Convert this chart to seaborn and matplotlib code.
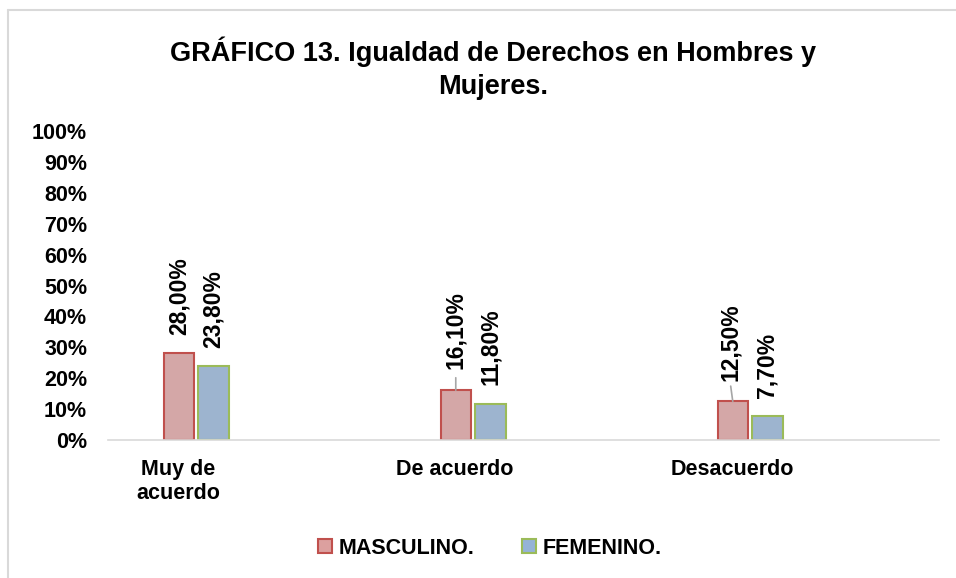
import matplotlib
matplotlib.use("Agg")
import matplotlib.pyplot as plt
import matplotlib.transforms as mtransforms
from matplotlib.lines import Line2D
from matplotlib.patches import Patch
import pandas as pd
import seaborn as sns

# ── Data ──────────────────────────────────────────────────────────────────────
CATEGORIES = ["Muy de\nacuerdo", "De acuerdo", "Desacuerdo"]
MASCULINO  = [0.280, 0.161, 0.125]
FEMENINO   = [0.238, 0.118, 0.077]
LABELS_M   = ["28,00%", "16,10%", "12,50%"]
LABELS_F   = ["23,80%", "11,80%", "7,70%"]
SERIES     = ["MASCULINO.", "FEMENINO."]
Y_TICKS    = [i / 10 for i in range(11)]

TITLE = "GRÁFICO 13. Igualdad de Derechos en Hombres y\nMujeres."

# ── Style ─────────────────────────────────────────────────────────────────────
sns.set_style("white")
plt.rcParams["font.family"] = ["Liberation Sans", "DejaVu Sans"]
plt.rcParams["text.color"] = "#000000"
FILL = {"MASCULINO.": "#DCA09F", "FEMENINO.": "#95B3D7"}
EDGE = {"MASCULINO.": "#C0504D", "FEMENINO.": "#9BBB59"}
FS = 15.5

df = pd.DataFrame({
    "cat":   CATEGORIES * 2,
    "serie": [SERIES[0]] * 3 + [SERIES[1]] * 3,
    "val":   MASCULINO + FEMENINO,
    "lab":   LABELS_M + LABELS_F,
})

fig = plt.figure(figsize=(9.56, 5.78), dpi=100)
ax = fig.add_axes([108 / 956, 1 - 440 / 578, 831 / 956, 309 / 578])

sns.barplot(data=df, x="cat", y="val", hue="serie", order=CATEGORIES,
            hue_order=SERIES, palette=FILL, width=0.25, gap=0.12,
            ax=ax, legend=False, errorbar=None)

for cont, serie in zip(ax.containers, SERIES):
    for bar in cont:
        bar.set_edgecolor(EDGE[serie])
        bar.set_linewidth(1.5)

# data labels (rotated); leader line where Excel pushed the label up
for cont, serie in zip(ax.containers, SERIES):
    sub = df[df["serie"] == serie].reset_index(drop=True)
    for i, bar in enumerate(cont):
        x = bar.get_x() + bar.get_width() / 2
        y = bar.get_height()
        lift = 13
        dx = 0
        if serie == "MASCULINO." and i > 0:
            lift = 15
            dx = -1.5 if i == 2 else 0
            ax.annotate("", xy=(x, y), xycoords="data",
                        xytext=(dx, 9 if i == 1 else 11),
                        textcoords="offset points",
                        arrowprops=dict(arrowstyle="-", color="#A6A6A6", lw=1.2,
                                        shrinkA=0, shrinkB=0))
        ax.annotate(sub.loc[i, "lab"], xy=(x, y), xytext=(dx, lift),
                    textcoords="offset points", rotation=90,
                    ha="center", va="bottom", fontsize=16.5, fontweight="bold",
                    color="#000000")

ax.set_xlim(-0.318, 2.682)
ax.set_ylim(0, 1)
ax.set_yticks(Y_TICKS)
ax.set_yticklabels([f"{int(round(t * 100))}%" for t in Y_TICKS])
ax.set_xlabel("")
ax.set_ylabel("")
ax.tick_params(axis="both", length=0, labelsize=FS, labelcolor="#000000")
ax.tick_params(axis="y", pad=15)
ax.tick_params(axis="x", pad=14)
for lbl in ax.get_xticklabels() + ax.get_yticklabels():
    lbl.set_fontweight("bold")
    lbl.set_linespacing(1.15)
shift = mtransforms.ScaledTranslation(-18 / 100, 0, fig.dpi_scale_trans)
for lbl in ax.get_xticklabels():
    lbl.set_transform(lbl.get_transform() + shift)
    lbl.set_va("top")

for side in ["top", "right", "left"]:
    ax.spines[side].set_visible(False)
ax.spines["bottom"].set_color("#D9D9D9")
ax.spines["bottom"].set_linewidth(1.2)

fig.text(493 / 956, 1 - 68 / 578, TITLE, ha="center", va="center",
         fontsize=19.5, fontweight="bold", linespacing=1.35, color="#000000")

handles = [Patch(facecolor=FILL[s], edgecolor=EDGE[s], linewidth=1.5) for s in SERIES]
leg = fig.legend(handles, SERIES, loc="center", bbox_to_anchor=(490 / 956, 1 - 548 / 578),
                 ncol=2, frameon=False, handlelength=0.65, handleheight=0.65,
                 handletextpad=0.3, columnspacing=2.2,
                 prop={"weight": "bold", "size": FS})

# chart-area border (top and left edges visible in the crop)
fig.add_artist(Line2D([8 / 956, 8 / 956], [0, 1 - 10 / 578], transform=fig.transFigure,
                      color="#D9D9D9", lw=1.5))
fig.add_artist(Line2D([8 / 956, 1], [1 - 10 / 578, 1 - 10 / 578], transform=fig.transFigure,
                      color="#D9D9D9", lw=1.5))

fig.savefig("out.png", dpi=100)
